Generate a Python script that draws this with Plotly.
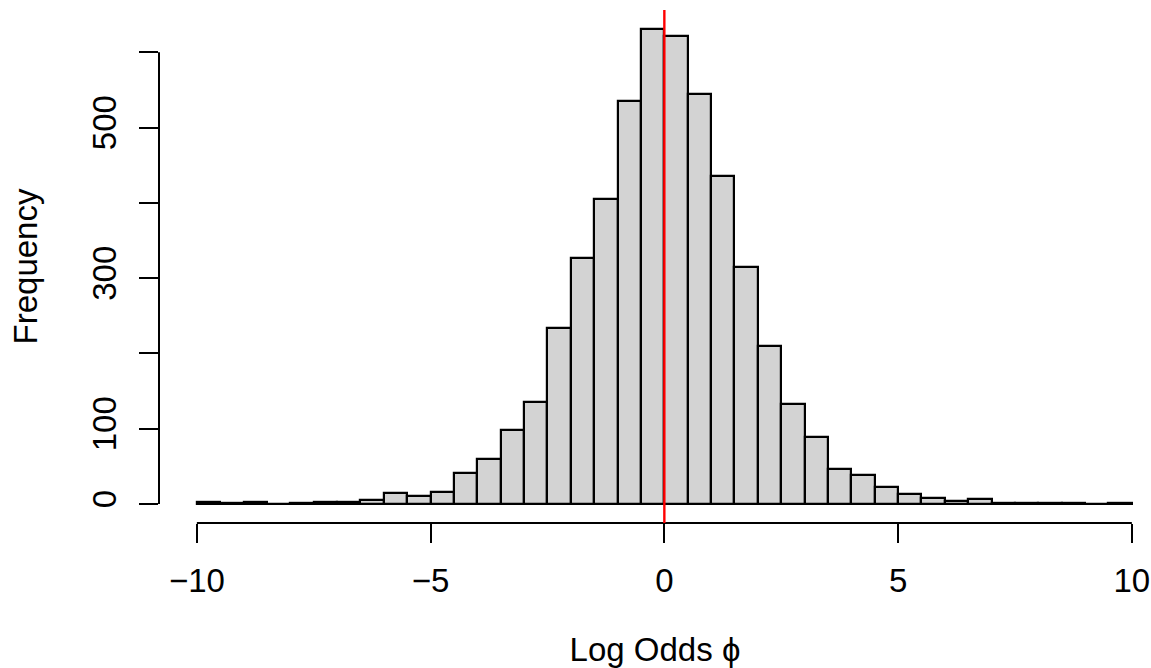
import plotly.graph_objects as go

# Histogram of log odds (bin width 0.5 from -10 to 10)
bin_left = [-10 + 0.5 * i for i in range(40)]
counts = [2, 1, 2, 0, 1, 3, 3, 5, 14, 11,
          16, 41, 60, 98, 135, 234, 327, 405, 536, 631,
          622, 544, 436, 315, 210, 133, 89, 46, 39, 23,
          13, 8, 4, 6, 1, 1, 1, 1, 0, 1]
bin_width = 0.5
x_ticks = [-10, -5, 0, 5, 10]
x_ticktext = ["\u221210", "\u22125", "0", "5", "10"]
y_ticks = [0, 100, 200, 300, 400, 500, 600]
y_ticktext = ["0", "100", "", "300", "", "500", ""]

FONT = "Liberation Sans, Arial, Helvetica, sans-serif"
FS = 33

centers = [b + bin_width / 2 for b in bin_left]

fig = go.Figure()
fig.add_trace(go.Bar(
    x=centers, y=counts, width=bin_width,
    marker=dict(color="#D3D3D3", line=dict(color="black", width=2.2)),
    hoverinfo="x+y", showlegend=False,
))

ymax = max(counts)
pad = 0.04 * ymax
fig.update_layout(
    width=1151, height=668,
    margin=dict(l=159, r=0, t=10, b=145),
    paper_bgcolor="white", plot_bgcolor="white",
    font=dict(family=FONT, size=FS, color="black"),
    bargap=0,
    xaxis=dict(
        range=[-10.81, 10.41], showgrid=False, zeroline=False, showline=False,
        tickmode="array", tickvals=x_ticks, ticktext=x_ticktext,
        ticks="outside", ticklen=19, tickwidth=2, tickcolor="black",
        ticklabelstandoff=9,
        title=dict(text="Log Odds \u03d5", standoff=40, font=dict(size=FS)),
        automargin=False,
    ),
    yaxis=dict(
        range=[-pad, ymax + pad], showgrid=False, zeroline=False, showline=False,
        tickmode="array", tickvals=y_ticks, ticktext=y_ticktext,
        ticks="outside", ticklen=19, tickwidth=2, tickcolor="black",
        tickangle=-90, ticklabelstandoff=10,
        title=dict(text="Frequency", standoff=38, font=dict(size=FS)),
        automargin=False,
    ),
    shapes=[
        # x axis line (R-style, spans tick range only)
        dict(type="line", xref="x", yref="paper", x0=x_ticks[0], x1=x_ticks[-1],
             y0=0, y1=0, line=dict(color="black", width=2)),
        # y axis line
        dict(type="line", xref="paper", yref="y", x0=0, x1=0,
             y0=y_ticks[0], y1=y_ticks[-1], line=dict(color="black", width=2)),
        # baseline of histogram
        dict(type="line", xref="x", yref="y", x0=bin_left[0], x1=bin_left[-1] + bin_width,
             y0=0, y1=0, line=dict(color="black", width=2.2)),
        # vertical reference line at 0
        dict(type="line", xref="x", yref="paper", x0=0, x1=0, y0=0, y1=1,
             line=dict(color="red", width=2.4)),
    ],
)

fig.write_html("out.html")
